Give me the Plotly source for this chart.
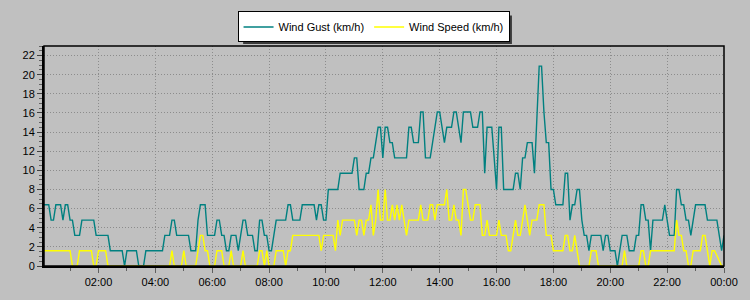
import pandas as pd
import plotly.graph_objects as go

# 5-minute readings from 00:05 to 24:00 (km/h)
gust_kmh = [
    6.4, 6.4, 6.4, 4.8, 4.8, 6.4, 6.4, 6.4, 4.8, 6.4,
    6.4, 4.8, 4.8, 3.2, 3.2, 3.2, 4.8, 4.8, 4.8, 4.8,
    4.8, 4.8, 3.2, 3.2, 3.2, 3.2, 3.2, 3.2, 1.6, 1.6,
    1.6, 1.6, 1.6, 1.6, 0.0, 1.6, 1.6, 1.6, 1.6, 1.6,
    0.0, 0.0, 0.0, 1.6, 1.6, 1.6, 1.6, 1.6, 1.6, 1.6,
    1.6, 3.2, 3.2, 3.2, 4.8, 4.8, 3.2, 3.2, 3.2, 3.2,
    3.2, 3.2, 1.6, 1.6, 1.6, 4.8, 6.4, 6.4, 6.4, 3.2,
    3.2, 3.2, 3.2, 4.8, 4.8, 3.2, 3.2, 1.6, 1.6, 3.2,
    3.2, 3.2, 1.6, 3.2, 4.8, 4.8, 3.2, 3.2, 3.2, 1.6,
    1.6, 4.8, 4.8, 3.2, 3.2, 1.6, 1.6, 3.2, 4.8, 4.8,
    4.8, 4.8, 4.8, 6.4, 6.4, 4.8, 4.8, 4.8, 4.8, 6.4,
    6.4, 6.4, 6.4, 6.4, 6.4, 4.8, 6.4, 6.4, 4.8, 4.8,
    8.0, 8.0, 8.0, 8.0, 8.0, 9.7, 9.7, 9.7, 9.7, 9.7,
    9.7, 11.3, 11.3, 8.0, 8.0, 8.0, 9.7, 9.7, 11.3, 11.3,
    12.9, 14.5, 14.5, 11.3, 14.5, 14.5, 12.9, 12.9, 11.3, 11.3,
    11.3, 11.3, 11.3, 11.3, 14.5, 14.5, 12.9, 12.9, 12.9, 16.1,
    16.1, 11.3, 11.3, 11.3, 12.9, 14.5, 16.1, 16.1, 14.5, 12.9,
    14.5, 14.5, 14.5, 16.1, 16.1, 14.5, 12.9, 16.1, 16.1, 16.1,
    16.1, 14.5, 14.5, 14.5, 16.1, 16.1, 9.7, 14.5, 14.5, 14.5,
    11.3, 8.0, 14.5, 14.5, 8.0, 8.0, 8.0, 8.0, 8.0, 9.7,
    9.7, 8.0, 11.3, 11.3, 12.9, 12.9, 12.9, 9.7, 16.1, 20.9,
    20.9, 16.1, 12.9, 12.9, 8.0, 8.0, 6.4, 6.4, 6.4, 6.4,
    9.7, 9.7, 4.8, 6.4, 6.4, 8.0, 8.0, 4.8, 3.2, 3.2,
    1.6, 3.2, 3.2, 3.2, 3.2, 3.2, 1.6, 3.2, 3.2, 1.6,
    1.6, 1.6, 0.0, 1.6, 3.2, 3.2, 3.2, 1.6, 1.6, 1.6,
    3.2, 3.2, 6.4, 6.4, 4.8, 4.8, 1.6, 4.8, 4.8, 4.8,
    4.8, 4.8, 6.4, 4.8, 3.2, 3.2, 3.2, 8.0, 8.0, 6.4,
    6.4, 4.8, 4.8, 3.2, 4.8, 6.4, 6.4, 6.4, 6.4, 6.4,
    4.8, 4.8, 4.8, 4.8, 4.8, 3.2, 1.6, 3.2,
]

speed_kmh = [
    1.6, 1.6, 1.6, 1.6, 1.6, 1.6, 1.6, 1.6, 1.6, 1.6,
    1.6, 1.6, 0.0, 0.0, 0.0, 1.6, 1.6, 1.6, 1.6, 1.6,
    1.6, 0.0, 0.0, 1.6, 1.6, 1.6, 1.6, 0.0, 0.0, 0.0,
    0.0, 0.0, 0.0, 0.0, 0.0, 0.0, 0.0, 0.0, 0.0, 0.0,
    0.0, 0.0, 0.0, 0.0, 0.0, 0.0, 0.0, 0.0, 0.0, 0.0,
    0.0, 0.0, 0.0, 0.0, 1.6, 0.0, 0.0, 0.0, 0.0, 1.6,
    0.0, 0.0, 0.0, 0.0, 0.0, 1.6, 3.2, 3.2, 1.6, 1.6,
    0.0, 0.0, 0.0, 1.6, 1.6, 1.6, 0.0, 0.0, 0.0, 1.6,
    0.0, 0.0, 0.0, 0.0, 1.6, 0.0, 0.0, 0.0, 0.0, 0.0,
    0.0, 1.6, 1.6, 0.0, 1.6, 0.0, 0.0, 0.0, 1.6, 1.6,
    1.6, 1.6, 0.0, 1.6, 1.6, 3.2, 3.2, 3.2, 3.2, 3.2,
    3.2, 3.2, 3.2, 3.2, 3.2, 3.2, 3.2, 1.6, 3.2, 3.2,
    3.2, 3.2, 3.2, 1.6, 4.8, 3.2, 4.8, 4.8, 4.8, 4.8,
    4.8, 4.8, 3.2, 4.8, 4.8, 3.2, 4.8, 4.8, 6.4, 3.2,
    4.8, 8.0, 4.8, 4.8, 8.0, 4.8, 4.8, 6.4, 4.8, 6.4,
    4.8, 6.4, 4.8, 3.2, 4.8, 4.8, 4.8, 4.8, 4.8, 6.4,
    4.8, 4.8, 4.8, 6.4, 6.4, 4.8, 6.4, 6.4, 6.4, 6.4,
    8.0, 4.8, 4.8, 6.4, 4.8, 4.8, 3.2, 8.0, 8.0, 6.4,
    4.8, 4.8, 6.4, 6.4, 6.4, 3.2, 3.2, 4.8, 3.2, 3.2,
    3.2, 3.2, 4.8, 3.2, 3.2, 3.2, 1.6, 1.6, 3.2, 4.8,
    3.2, 3.2, 4.8, 6.4, 4.8, 3.2, 4.8, 4.8, 4.8, 6.4,
    6.4, 6.4, 3.2, 3.2, 3.2, 1.6, 1.6, 1.6, 1.6, 1.6,
    3.2, 3.2, 1.6, 1.6, 3.2, 1.6, 0.0, 0.0, 0.0, 0.0,
    0.0, 1.6, 1.6, 1.6, 0.0, 0.0, 0.0, 0.0, 0.0, 0.0,
    0.0, 0.0, 0.0, 0.0, 0.0, 1.6, 0.0, 0.0, 0.0, 0.0,
    0.0, 0.0, 1.6, 1.6, 0.0, 0.0, 1.6, 1.6, 1.6, 1.6,
    1.6, 1.6, 1.6, 1.6, 1.6, 1.6, 1.6, 4.8, 3.2, 3.2,
    1.6, 1.6, 0.0, 0.0, 1.6, 1.6, 1.6, 1.6, 3.2, 3.2,
    1.6, 0.0, 1.6, 1.6, 1.1, 0.5, 0.0, 0.0,
]

series_names = ["Wind Gust (km/h)", "Wind Speed (km/h)"]
times = pd.date_range("2024-01-01 00:05", periods=len(gust_kmh), freq="5min")

FONT = "Liberation Sans, Arial, sans-serif"
BG = "#C0C0C0"
GRID = "#8C8C8C"

fig = go.Figure()
fig.add_trace(go.Scatter(x=times, y=gust_kmh, mode="lines", name=series_names[0],
                         line=dict(color="#008080", width=1.4)))
fig.add_trace(go.Scatter(x=times, y=speed_kmh, mode="lines", name=series_names[1],
                         line=dict(color="#FFFF00", width=1.4)))

# legend placement in plot-relative paper units (plot area: 683 x 223 px, top-left at 44,44)
def px_x(p):
    return (p - 44) / 683.0

def px_y(p):
    return 1 + (44 - p) / 223.0

fig.update_layout(
    width=750, height=300, autosize=False,
    margin=dict(l=44, r=23, t=44, b=33),
    paper_bgcolor=BG, plot_bgcolor=BG,
    font=dict(family=FONT, size=11, color="black"),
    showlegend=True,
    legend=dict(orientation="h", x=px_x(375), xanchor="center", y=px_y(9), yanchor="top",
                bgcolor="white", bordercolor="black", borderwidth=1,
                font=dict(family=FONT, size=11, color="black"),
                itemwidth=30, tracegroupgap=0),
)

fig.update_xaxes(
    type="date",
    range=["2024-01-01 00:05", "2024-01-02 00:00"],
    tick0="2024-01-01 00:00", dtick=7200000, tickformat="%H:%M",
    ticks="outside", ticklen=5, tickcolor="#606060", tickwidth=1,
    showline=True, linecolor="black", linewidth=2,
    showgrid=True, gridcolor=GRID, gridwidth=1, griddash="1px,2px",
    minor=dict(dtick=3600000, ticks="outside", ticklen=3, tickcolor="#606060", showgrid=False),
    tickfont=dict(family=FONT, size=11, color="black"),
    fixedrange=True,
)
fig.update_yaxes(
    range=[0, 23], tick0=0, dtick=2,
    ticks="outside", ticklen=5, tickcolor="#404040", tickwidth=1,
    showline=True, linecolor="black", linewidth=2, zeroline=False,
    showgrid=True, gridcolor=GRID, gridwidth=1, griddash="1px,2px",
    minor=dict(dtick=0.5, ticks="outside", ticklen=3, tickcolor="#606060", showgrid=False),
    tickfont=dict(family=FONT, size=11, color="black"),
    fixedrange=True,
)

# plot frame (top and right border)
fig.add_shape(type="rect", xref="x domain", yref="y domain", x0=0, x1=1, y0=0, y1=1,
              line=dict(color="black", width=1.5), layer="above")
# legend drop shadow
fig.add_shape(type="rect", xref="paper", yref="paper",
              x0=px_x(244), x1=px_x(514), y0=px_y(42), y1=px_y(13),
              line=dict(width=0), fillcolor="#3A3A3A", layer="above")

fig.write_html("out.html")
